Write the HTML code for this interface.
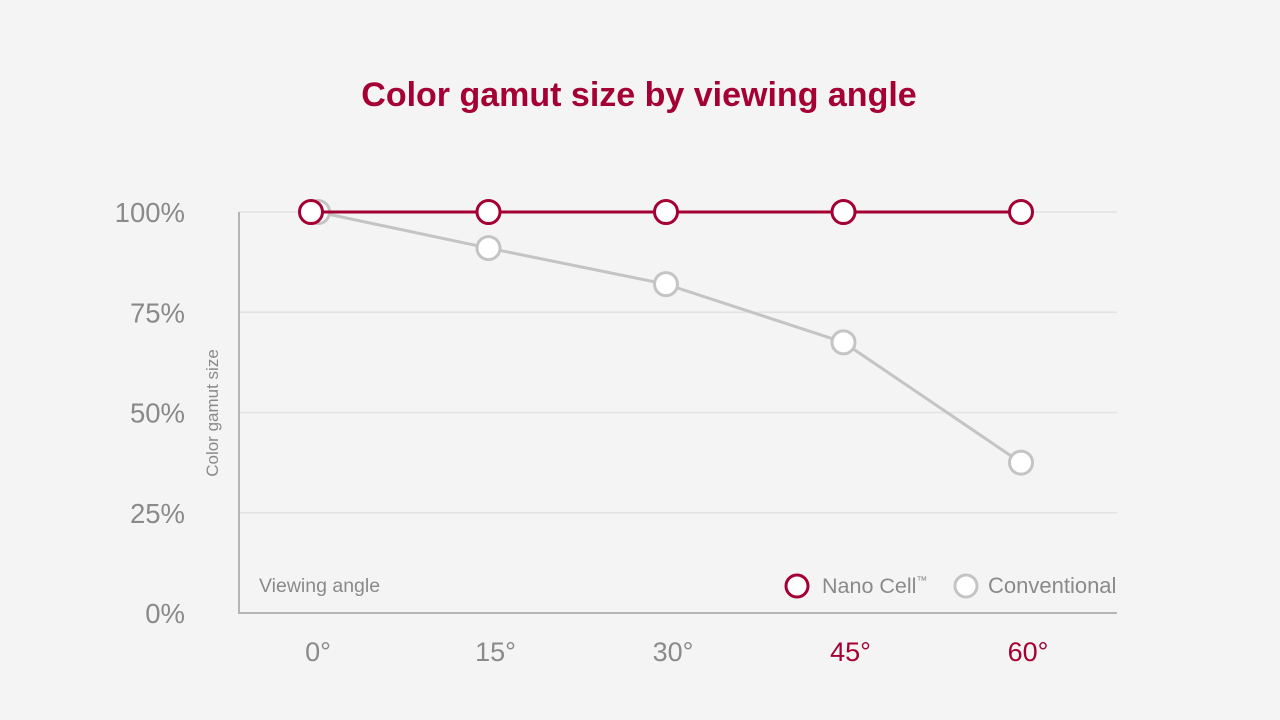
<!DOCTYPE html>
<html><head><meta charset="utf-8"><style>
html,body{margin:0;padding:0;background:#f4f4f4;}
svg{display:block;font-family:"Liberation Sans",sans-serif;}
</style></head><body>
<svg id="chart" width="1280" height="720" viewBox="0 0 1280 720">
<rect width="1280" height="720" fill="#f4f4f4"/>
<text x="639" y="106" text-anchor="middle" font-size="34" font-weight="bold" fill="#a50034">Color gamut size by viewing angle</text>
<g id="grid"></g>
<g id="axes"></g>
<g id="series"></g>
<text transform="translate(218,413) rotate(-90)" text-anchor="middle" font-size="17" fill="#8a8a8a">Color gamut size</text>
<text x="259" y="592" font-size="19.5" fill="#8a8a8a">Viewing angle</text>
<g>
<circle cx="797" cy="586" r="11" fill="#fff" stroke="#a50034" stroke-width="3"/>
<text x="822" y="593" font-size="21.5" fill="#8a8a8a">Nano Cell<tspan font-size="11" dy="-9">™</tspan></text>
<circle cx="966" cy="586" r="11" fill="#fff" stroke="#c4c4c4" stroke-width="3"/>
<text x="988" y="593" font-size="22" fill="#8a8a8a">Conventional</text>
</g>
</svg>
<script>
const categories = ["0°","15°","30°","45°","60°"];
const nanoCell = [100,100,100,100,100];
const conventional = [100,91,82,67.5,37.5];
const yTicks = [0,25,50,75,100];
const yTickLabels = ["0%","25%","50%","75%","100%"];

const NS="http://www.w3.org/2000/svg";
const xs = i => 311 + i*177.5;
const ys = v => 613 - v/100*401;
function mk(tag, attrs, parent){const e=document.createElementNS(NS,tag);for(const k in attrs)e.setAttribute(k,attrs[k]);parent.appendChild(e);return e;}
const grid=document.getElementById('grid'), axes=document.getElementById('axes'), series=document.getElementById('series');
yTicks.forEach((t,i)=>{
  if(t>0){const l=mk('line',{x1:239,x2:1117,y1:ys(t),y2:ys(t),stroke:'#e2e2e2','stroke-width':1.5},grid);
  
  }
  const tx=mk('text',{x:185,y:ys(t)+10,'text-anchor':'end','font-size':27.5,fill:'#8a8a8a'},axes);
  tx.textContent=yTickLabels[i];
  
  
});
let a=mk('line',{x1:239,x2:239,y1:212,y2:613,stroke:'#b5b5b5','stroke-width':2},axes);


a=mk('line',{x1:238,x2:1117,y1:613,y2:613,stroke:'#b5b5b5','stroke-width':2},axes);


categories.forEach((c,i)=>{
  const t=mk('text',{x:xs(i)+7,y:661,'text-anchor':'middle','font-size':27,fill:i>=3?'#a50034':'#8a8a8a'},axes);
  t.textContent=c;
  
  
});
function draw(vals,color,name,firstOffset){
  const px=i=>xs(i)+(i===0?firstOffset:0);
  const p=mk('polyline',{points:vals.map((v,i)=>px(i)+','+ys(v)).join(' '),fill:'none',stroke:color,'stroke-width':3},series);
  
  
  vals.forEach((v,i)=>{
    const c=mk('circle',{cx:px(i),cy:ys(v),r:11.5,fill:'#fff',stroke:color,'stroke-width':3},series);
    
    
  });
}
draw(conventional,'#c4c4c4','conventional',7);
draw(nanoCell,'#a50034','nano-cell',0);
</script>
</body></html>
